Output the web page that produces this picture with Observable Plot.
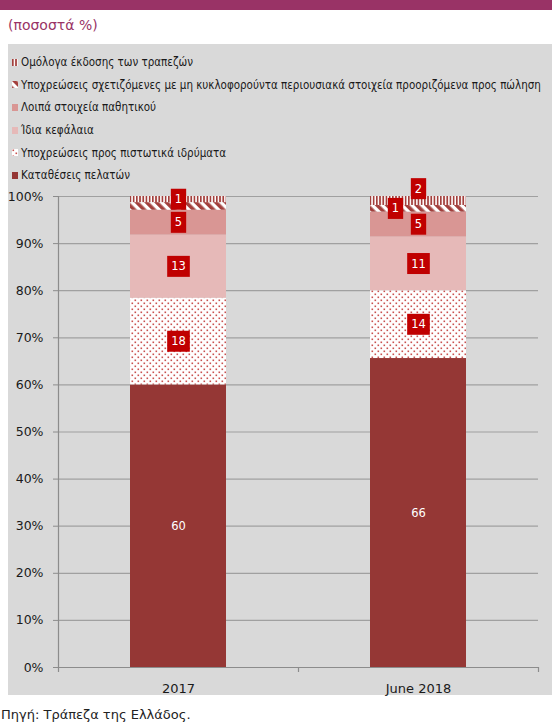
<!DOCTYPE html>
<html><head><meta charset="utf-8">
<script src="https://cdn.jsdelivr.net/npm/d3@7"></script>
<script src="https://cdn.jsdelivr.net/npm/@observablehq/plot@0.6"></script>
<style>
body{margin:0;width:552px;height:724px;background:#fff;font-family:"DejaVu Sans",sans-serif;position:relative;overflow:hidden}
#band{position:absolute;left:0;top:0;width:552px;height:10px;background:#993366}
#sub{position:absolute;left:8px;top:16px;font-size:14px;color:#993366;line-height:18px}
#panel{position:absolute;left:8px;top:44px;width:544px;height:651px;background:#d9d9d9}
#legend{position:absolute;left:4px;top:7px;font-family:"DejaVu Sans Condensed","DejaVu Sans",sans-serif;font-size:11.5px;color:#1a1a1a;white-space:nowrap}
.item{height:22.6px;display:flex;align-items:center}
.item svg{margin-right:3px;flex:none}
#chart{position:absolute;left:0;top:141px}
#src{position:absolute;left:1px;top:707px;font-size:13px;color:#222;line-height:16px}
</style></head>
<body>
<svg width="0" height="0" style="position:absolute">
<defs>
<pattern id="p-dots" patternUnits="userSpaceOnUse" width="6" height="6">
  <rect width="6" height="6" fill="#fff"/>
  <rect x="0.5" y="0.5" width="1.6" height="1.6" fill="#c9514f"/>
  <rect x="3.5" y="3.5" width="1.6" height="1.6" fill="#c9514f"/>
</pattern>
<pattern id="p-diag" patternUnits="userSpaceOnUse" width="7" height="7" patternTransform="rotate(-45)">
  <rect width="7" height="7" fill="#fff"/>
  <rect width="3.6" height="7" fill="#a3403d"/>
</pattern>
<pattern id="p-vert" patternUnits="userSpaceOnUse" width="3.2" height="10">
  <rect width="3.2" height="10" fill="#fff"/>
  <rect width="1.7" height="10" fill="#a3403d"/>
</pattern>
</defs>
</svg>
<div id="band"></div>
<div id="sub">(ποσοστά %)</div>
<div id="panel">
  <div id="legend"></div>
  <div id="chart"></div>
</div>
<div id="src">Πηγή: Τράπεζα της Ελλάδος.</div>
<script>
// ---- data ----
const years = ["2017", "June 2018"];
const seriesNames = [
  "Καταθέσεις πελατών",
  "Υποχρεώσεις προς πιστωτικά ιδρύματα",
  "Ίδια κεφάλαια",
  "Λοιπά στοιχεία παθητικού",
  "Υποχρεώσεις σχετιζόμενες με μη κυκλοφορούντα περιουσιακά στοιχεία προοριζόμενα προς πώληση",
  "Ομόλογα έκδοσης των τραπεζών"
];
const values2017 = [60.0, 18.4, 13.4, 5.3, 1.6, 1.3];
const values2018 = [65.6, 14.4, 11.4, 5.3, 1.4, 1.9];
const labels2017 = ["60", "18", "13", "5", "", "1"];
const labels2018 = ["66", "14", "11", "5", "1", "2"];
const yTicks = [0, 10, 20, 30, 40, 50, 60, 70, 80, 90, 100];

// ---- styles ----
const fills = ["#953735", "url(#p-dots)", "#e6b9b8", "#d99694", "url(#p-diag)", "url(#p-vert)"];

const rows = [];
years.forEach((yr, i) => {
  const vals = i ? values2018 : values2017;
  const labs = i ? labels2018 : labels2017;
  seriesNames.forEach((s, k) => rows.push({year: yr, series: s, value: vals[k], label: labs[k] || null, k, i}));
});

// legend (reverse order, top = last series)
const legend = document.getElementById("legend");
seriesNames.slice().reverse().forEach((s) => {
  const k = seriesNames.indexOf(s);
  const div = document.createElement("div");
  div.className = "item";
  div.innerHTML = `<svg width="6" height="7"><rect width="6" height="7" fill="${fills[k]}"/></svg><span>${s}</span>`;
  legend.appendChild(div);
});

const W = 544, H = 510, mL = 50, mR = 14, mT = 11, mB = 28;
const xOpts = {domain: years, paddingInner: 0.6, paddingOuter: 0.3};
const xs = Plot.scale({x: {type: "band", ...xOpts, range: [mL, W - mR]}});
const step = xs.step;

const nudge = (d) => d.i === 1 && d.k === 5 ? "up" : d.i === 1 && d.k === 4 ? "left" : "none";

const plot = Plot.plot({
  width: W, height: H, marginTop: mT, marginBottom: mB, marginLeft: mL, marginRight: mR,
  style: {background: "transparent", fontFamily: "DejaVu Sans, sans-serif", fontSize: "12.5px", color: "#1a1a1a", overflow: "visible"},
  x: {...xOpts, label: null},
  y: {domain: [0, 100], label: null},
  color: {domain: seriesNames, range: fills},
  marks: [
    Plot.ruleY(yTicks.filter(t => t > 0), {y: d => d, stroke: "#a0a0a0", strokeWidth: 1.2}),
    Plot.barY(rows, {x: "year", y: "value", fill: "series"}),
    Plot.ruleY([0], {stroke: "#8c8c8c", strokeWidth: 1.2}),
    Plot.ruleX([years[0]], {x: d => d, dx: -step / 2, y1: 0, y2: 100, stroke: "#8c8c8c", strokeWidth: 1.2}),
    Plot.ruleX(years, {x: d => d, dx: -step / 2, y1: 0, y2: 0, insetBottom: -5, stroke: "#8c8c8c", strokeWidth: 1.2}),
    Plot.ruleX([years[years.length - 1]], {x: d => d, dx: step / 2, y1: 0, y2: 0, insetBottom: -5, stroke: "#8c8c8c", strokeWidth: 1.2}),
    Plot.axisY({ticks: yTicks, tickFormat: d => d + "%", tickSize: 5, tickPadding: 10, stroke: "#8c8c8c", fontSize: 12.5}),
    Plot.axisX({tickSize: 0, tickPadding: 16, fontSize: 13}),
    Plot.text(rows, Plot.stackY({x: "year", y: "value", text: d => d.k === 0 ? d.label : null, fill: "#fff", fontSize: 11.5})),
    Plot.text(rows, Plot.stackY({x: "year", y: "value", text: d => d.k > 0 && nudge(d) === "none" ? d.label : null, fill: "#fff", fontSize: 11.5, ariaDescription: "boxed"})),
    Plot.text(rows, Plot.stackY({x: "year", y: "value", text: d => nudge(d) === "left" ? d.label : null, dx: -23, fill: "#fff", fontSize: 11.5, ariaDescription: "boxed"})),
    Plot.text(rows, Plot.stackY({x: "year", y: "value", text: d => nudge(d) === "up" ? d.label : null, dy: -12, fill: "#fff", fontSize: 11.5, ariaDescription: "boxed"}))
  ]
});
document.getElementById("chart").appendChild(plot);

// red boxes behind boxed labels
plot.querySelectorAll('g[aria-description="boxed"] text').forEach((t) => {
  const b = t.getBBox();
  if (!b.width) return;
  const r = document.createElementNS("http://www.w3.org/2000/svg", "rect");
  const padX = 4, padY = 3.5;
  r.setAttribute("x", b.x - padX);
  r.setAttribute("y", b.y - padY);
  r.setAttribute("width", b.width + 2 * padX);
  r.setAttribute("height", b.height + 2 * padY);
  r.setAttribute("fill", "#c00000");
  r.setAttribute("stroke", "none");
  if (t.getAttribute("transform")) r.setAttribute("transform", t.getAttribute("transform"));
  t.parentNode.insertBefore(r, t);
});
</script>
</body></html>
